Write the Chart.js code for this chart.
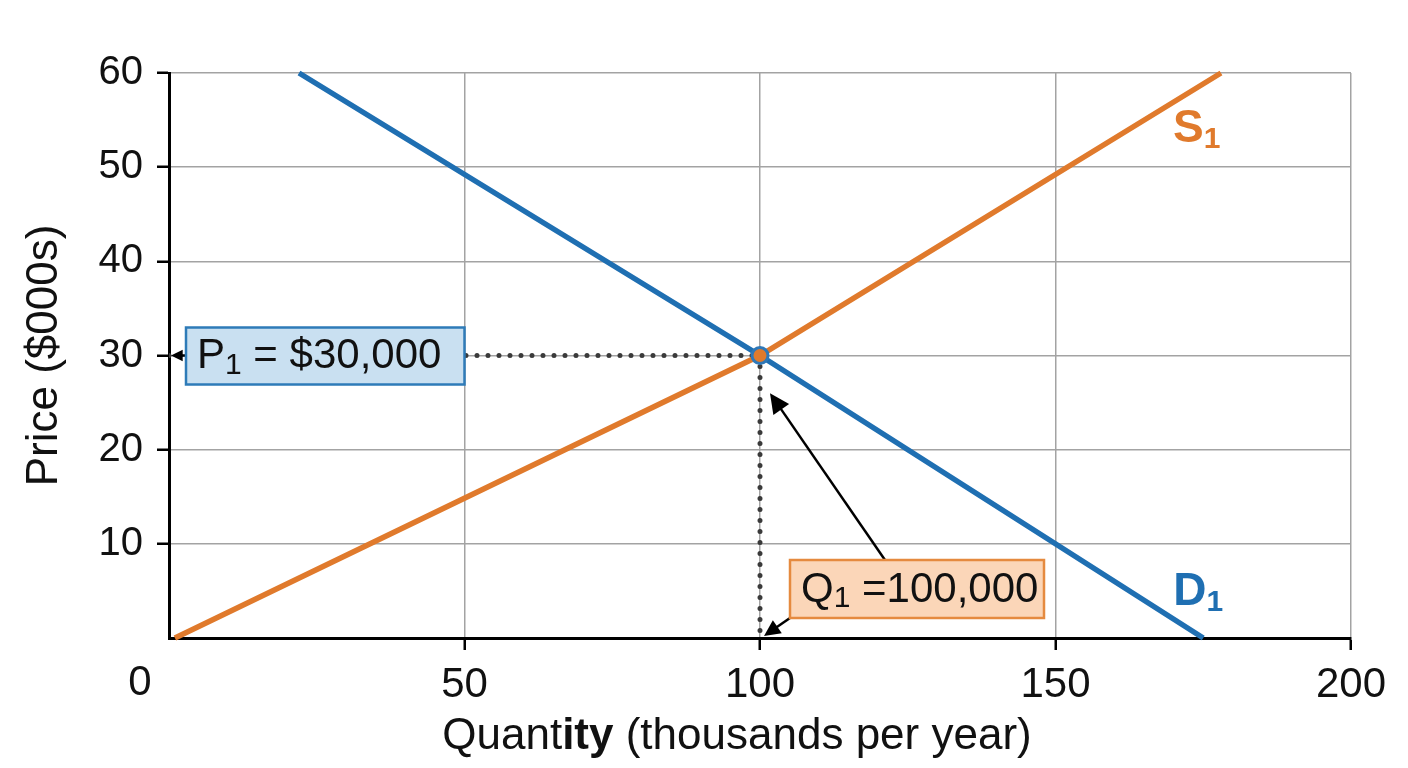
<!DOCTYPE html>
<html>
<head>
<meta charset="utf-8">
<script src="https://cdn.jsdelivr.net/npm/chart.js@4.4.1/dist/chart.umd.min.js"></script>
<style>
  html, body { margin: 0; padding: 0; background: #fff; }
  #wrap { width: 1408px; height: 768px; position: relative; }
</style>
</head>
<body>
<div id="wrap"><canvas id="chart"></canvas></div>
<script>
// values
const demandQty = [22, 100, 175];
const demandPrice = [60, 30, 0];
const supplyQty = [1, 100, 178];
const supplyPrice = [0, 30, 60];
const eqQty = 100;
const eqPrice = 30;
const xTicks = [0, 50, 100, 150, 200];
const yTicks = [0, 10, 20, 30, 40, 50, 60];

const blue = '#1f6fb2';
const orange = '#e07a2c';
const ink = '#111';
const fontFamily = "'Liberation Sans', Arial, sans-serif";

function toPoints(xs, ys) {
    return xs.map((v, i) => ({ x: v, y: ys[i] }));
}

// draw a run of text pieces (for subscripts / mixed weight)
function drawParts(ctx, x, y, parts, align) {
    let total = 0;
    parts.forEach(p => { ctx.font = p.font; total += ctx.measureText(p.text).width; });
    let cx = align === 'center' ? x - total / 2 : x;
    ctx.textAlign = 'left';
    ctx.textBaseline = 'middle';
    parts.forEach(p => {
        ctx.font = p.font;
        ctx.fillStyle = p.color || ink;
        ctx.fillText(p.text, cx, y + (p.dy || 0));
        cx += ctx.measureText(p.text).width;
    });
}

function arrow(ctx, x1, y1, x2, y2, head) {
    const a = Math.atan2(y2 - y1, x2 - x1);
    ctx.strokeStyle = '#000';
    ctx.fillStyle = '#000';
    ctx.lineWidth = 2.5;
    ctx.beginPath();
    ctx.moveTo(x1, y1);
    ctx.lineTo(x2 - Math.cos(a) * head * 0.8, y2 - Math.sin(a) * head * 0.8);
    ctx.stroke();
    ctx.beginPath();
    ctx.moveTo(x2, y2);
    ctx.lineTo(x2 - head * Math.cos(a - 0.45), y2 - head * Math.sin(a - 0.45));
    ctx.lineTo(x2 - head * Math.cos(a + 0.45), y2 - head * Math.sin(a + 0.45));
    ctx.closePath();
    ctx.fill();
}

function box(ctx, b, fill, stroke) {
    ctx.fillStyle = fill;
    ctx.fillRect(b.l, b.t, b.r - b.l, b.b - b.t);
    ctx.strokeStyle = stroke;
    ctx.lineWidth = 2.5;
    ctx.strokeRect(b.l, b.t, b.r - b.l, b.b - b.t);
}

const annotations = {
    id: 'annotations',
    afterDatasetsDraw(chart) {
        const { ctx, chartArea: area, scales: { x, y } } = chart;
        ctx.save();

        // P1 label on the price axis
        const py = y.getPixelForValue(eqPrice);
        const pBox = { l: area.left + 17, r: x.getPixelForValue(50), t: py - 28, b: py + 29 };
        arrow(ctx, pBox.l, py, area.left + 2, py, 13);
        box(ctx, pBox, '#c9e0f1', '#2e7bb8');
        drawParts(ctx, pBox.l + 11, py + 1, [
            { text: 'P', font: '42px ' + fontFamily },
            { text: '1', font: '30px ' + fontFamily, dy: 9 },
            { text: ' = $30,000', font: '42px ' + fontFamily }
        ]);

        // Q1 label near the quantity axis
        const qx = x.getPixelForValue(eqQty);
        const base = y.getPixelForValue(0);
        const qBox = { l: qx + 30, r: qx + 284, t: base - 78, b: base - 20 };
        arrow(ctx, qBox.l + 95, qBox.t, qx + 10, y.getPixelForValue(26), 22);
        arrow(ctx, qBox.l, qBox.b, qx + 4, base - 2, 18);
        box(ctx, qBox, '#fbd6b8', '#e58a3f');
        drawParts(ctx, qBox.l + 11, (qBox.t + qBox.b) / 2 + 1, [
            { text: 'Q', font: '42px ' + fontFamily },
            { text: '1', font: '30px ' + fontFamily, dy: 9 },
            { text: ' =100,000', font: '42px ' + fontFamily }
        ]);

        // curve labels
        drawParts(ctx, x.getPixelForValue(supplyQty[2]) - 48, y.getPixelForValue(54), [
            { text: 'S', font: 'bold 46px ' + fontFamily, color: orange },
            { text: '1', font: 'bold 30px ' + fontFamily, color: orange, dy: 10 }
        ]);
        drawParts(ctx, x.getPixelForValue(demandQty[2]) - 30, y.getPixelForValue(4.8), [
            { text: 'D', font: 'bold 46px ' + fontFamily, color: blue },
            { text: '1', font: 'bold 30px ' + fontFamily, color: blue, dy: 10 }
        ]);
        ctx.restore();
    },
    afterDraw(chart) {
        const { ctx, chartArea: area } = chart;
        ctx.save();
        // origin label sits left of the corner
        ctx.font = '42px ' + fontFamily;
        ctx.fillStyle = ink;
        ctx.textAlign = 'center';
        ctx.textBaseline = 'top';
        ctx.fillText('0', area.left - 29, area.bottom + 24);
        // x axis title with the odd bold "ity"
        drawParts(ctx, (area.left + area.right) / 2 - 23, area.bottom + 99, [
            { text: 'Quant', font: '44px ' + fontFamily },
            { text: 'ity', font: 'bold 44px ' + fontFamily },
            { text: ' (thousands per year)', font: '44px ' + fontFamily }
        ], 'center');
        ctx.restore();
    }
};

const hideZeroTick = c => (c.tick && c.tick.value === 0) ? 'rgba(0,0,0,0)' : '#000';

new Chart(document.getElementById('chart'), {
    type: 'scatter',
    data: {
        datasets: [
            {
                label: 'Equilibrium',
                data: [{ x: eqQty, y: eqPrice }],
                pointRadius: 8,
                pointBackgroundColor: orange,
                pointBorderColor: '#2f78b8',
                pointBorderWidth: 3,
                clip: false
            },
            {
                label: 'S1',
                data: toPoints(supplyQty, supplyPrice),
                showLine: true,
                borderColor: orange,
                borderWidth: 5.5,
                pointRadius: 0,
                clip: false
            },
            {
                label: 'D1',
                data: toPoints(demandQty, demandPrice),
                showLine: true,
                borderColor: blue,
                borderWidth: 5.5,
                pointRadius: 0,
                clip: false
            },
            {
                label: 'P1 guide',
                data: [{ x: xTicks[0], y: eqPrice }, { x: eqQty, y: eqPrice }],
                showLine: true,
                borderColor: '#3a3a3a',
                borderWidth: 5,
                borderDash: [0, 11],
                borderCapStyle: 'round',
                pointRadius: 0
            },
            {
                label: 'Q1 guide',
                data: [{ x: eqQty, y: eqPrice }, { x: eqQty, y: yTicks[0] }],
                showLine: true,
                borderColor: '#3a3a3a',
                borderWidth: 5,
                borderDash: [0, 11],
                borderCapStyle: 'round',
                pointRadius: 0
            }
        ]
    },
    options: {
        responsive: true,
        maintainAspectRatio: false,
        animation: false,
        layout: { padding: { top: 73, right: 57, left: 0, bottom: 0 } },
        plugins: {
            legend: { display: false },
            tooltip: { enabled: false }
        },
        scales: {
            x: {
                type: 'linear',
                min: xTicks[0],
                max: xTicks[xTicks.length - 1],
                afterBuildTicks: s => { s.ticks = xTicks.map(v => ({ value: v })); },
                afterFit: s => { s.height = 130; },
                ticks: {
                    callback: v => v === 0 ? '' : v,
                    font: { size: 42, family: fontFamily },
                    color: ink,
                    padding: 10,
                    maxRotation: 0
                },
                grid: {
                    color: '#a3a3a3',
                    lineWidth: 1.5,
                    tickLength: 12,
                    tickColor: hideZeroTick,
                    tickWidth: 2.5
                },
                border: { color: '#000', width: 3 }
            },
            y: {
                type: 'linear',
                min: yTicks[0],
                max: yTicks[yTicks.length - 1],
                afterBuildTicks: s => { s.ticks = yTicks.map(v => ({ value: v })); },
                afterFit: s => { s.width = 169; },
                ticks: {
                    callback: v => v === 0 ? '' : v,
                    font: { size: 40, family: fontFamily },
                    color: ink,
                    padding: 14
                },
                grid: {
                    color: '#a3a3a3',
                    lineWidth: 1.5,
                    tickLength: 12,
                    tickColor: hideZeroTick,
                    tickWidth: 2.5
                },
                border: { color: '#000', width: 3 },
                title: {
                    display: true,
                    text: 'Price ($000s)',
                    font: { size: 44, family: fontFamily },
                    color: ink,
                    padding: { top: 18, bottom: 0 }
                }
            }
        }
    },
    plugins: [annotations]
});
</script>
</body>
</html>
